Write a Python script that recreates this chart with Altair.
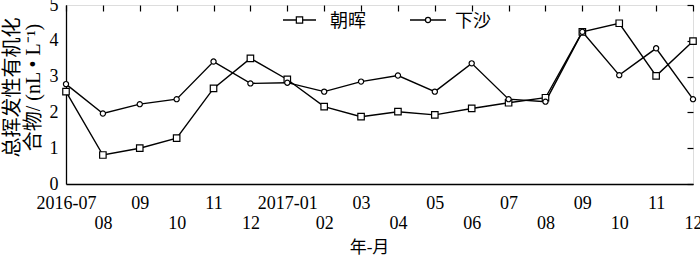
import json
import altair as alt
import pandas as pd

months = ["2016-07", "08", "09", "10", "11", "12", "2017-01", "02", "03", "04",
          "05", "06", "07", "08", "09", "10", "11", "12"]
zhaohui = [2.58, 0.81, 1.00, 1.28, 2.67, 3.51, 2.92, 2.16, 1.88, 2.02,
           1.93, 2.11, 2.27, 2.41, 4.25, 4.49, 3.02, 3.99]
xiasha = [2.79, 1.97, 2.23, 2.37, 3.42, 2.81, 2.83, 2.58, 2.86, 3.03,
          2.58, 3.37, 2.37, 2.30, 4.25, 3.04, 3.79, 2.37]
series = ["朝晖", "下沙"]
shapes = ["square", "circle"]
yticks = [0, 1, 2, 3, 4, 5]
y_title = ["总挥发性有机化", "合物/ (nL • L⁻¹)"]
x_title = "年-月"

rows = []
for i, m in enumerate(months):
    rows.append({"idx": i, "value": zhaohui[i], "series": series[0]})
    rows.append({"idx": i, "value": xiasha[i], "series": series[1]})
df = pd.DataFrame(rows)

FONT = "Liberation Serif, Noto Sans CJK SC"
arr = json.dumps(months)
label_expr = f"datum.value % 2 == 0 ? [{arr}[datum.value]] : ['', {arr}[datum.value]]"

xs = alt.Scale(domain=[0, len(months) - 1], nice=False, zero=False)
ys = alt.Scale(domain=[0, 5], nice=False)

base = alt.Chart(df)

lines = base.mark_line(color="black", strokeWidth=1.4).encode(
    x=alt.X("idx:Q", scale=xs, axis=alt.Axis(
        values=list(range(len(months))), labelExpr=label_expr, labelFont=FONT,
        labelFontSize=18, labelColor="black", labelPadding=10, labelLineHeight=20,
        labelOverlap=False, labelFlush=False, labelAlign="center", ticks=False, grid=False,
        domainColor="black", domainWidth=1.3,
        title=x_title, titleFont=FONT, titleFontSize=17, titleFontWeight="normal",
        titleColor="black", titleX=303, titleY=63, titleAlign="center",
        titleBaseline="middle")),
    y=alt.Y("value:Q", scale=ys, axis=alt.Axis(
        values=yticks, labelFont=FONT, labelFontSize=18, labelColor="black",
        labelPadding=8, labelOverlap=False, labelFlush=False, ticks=False, grid=False,
        domainColor="black", domainWidth=1.3,
        title=y_title, titleFont=FONT, titleFontSize=20, titleFontWeight="normal",
        titleColor="black", titleLineHeight=21, titleX=-44, titleY=82,
        titleAngle=-90, titleAlign="center", titleBaseline="bottom")),
    detail="series:N",
)

points = base.mark_point(filled=True, fill="white", stroke="black", strokeWidth=1.2, opacity=1).encode(
    x=alt.X("idx:Q", scale=xs, axis=alt.Axis(
        values=list(range(len(months))), offset=-6, domain=False, labels=False,
        ticks=True, tickSize=6, tickColor="black", tickWidth=1.2, grid=False, title=None)),
    y=alt.Y("value:Q", scale=ys, axis=alt.Axis(
        values=yticks, offset=-6, domain=False, labels=False, ticks=True,
        tickSize=6, tickColor="black", tickWidth=1.2, grid=False, title=None)),
    shape=alt.Shape("series:N", scale=alt.Scale(domain=series, range=shapes), legend=None),
    size=alt.Size("series:N", scale=alt.Scale(domain=series, range=[42, 27]), legend=None),
)

# Legend drawn as small marks at the top of the plot (layout positions, in pixels)
legend_layers = []
leg_left = [217, 344]      # start of each legend line
leg_len = [33, 36]
leg_text = [264, 389]
leg_y = 15
leg_size = [40, 26]
for i, s in enumerate(series):
    ldf = pd.DataFrame({"series": [s]})
    lb = alt.Chart(ldf)
    legend_layers.append(lb.mark_rule(color="black", strokeWidth=1.4).encode(
        x=alt.value(leg_left[i]), x2=alt.value(leg_left[i] + leg_len[i]), y=alt.value(leg_y)))
    legend_layers.append(lb.mark_point(filled=True, fill="white", stroke="black",
                                       strokeWidth=1.2, opacity=1).encode(
        x=alt.value(leg_left[i] + leg_len[i] / 2), y=alt.value(leg_y),
        shape=alt.value(shapes[i]), size=alt.value(leg_size[i])))
    legend_layers.append(lb.mark_text(font=FONT, fontSize=18, color="black",
                                      align="left", baseline="middle").encode(
        x=alt.value(leg_text[i]), y=alt.value(leg_y + 2), text="series:N"))

chart = alt.layer(lines, points, *legend_layers).resolve_scale(
    shape="independent", size="independent"
).resolve_axis(x="independent", y="independent").properties(
    width=627, height=179,
    autosize=alt.AutoSizeParams(type="none"),
    padding={"left": 66, "top": 5, "right": 7, "bottom": 76},
).configure_view(stroke=None).configure(background="white")

chart.save("out.html", embed_options={"renderer": "svg", "actions": False})
